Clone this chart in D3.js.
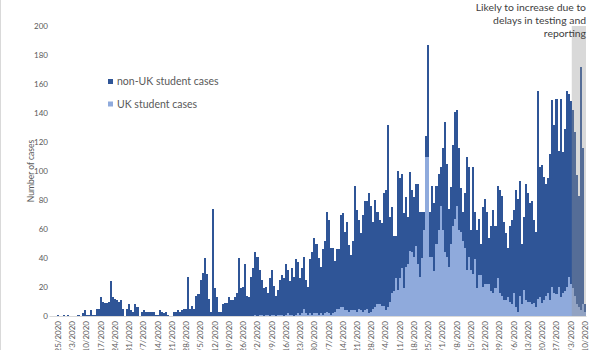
<!DOCTYPE html>
<html>
<head>
<meta charset="utf-8">
<script src="https://cdn.jsdelivr.net/npm/d3@7"></script>
<style>
  html, body { margin: 0; padding: 0; background: #fff; }
  svg { display: block; font-family: Lato, "Open Sans", sans-serif; }
</style>
</head>
<body>
<svg id="chart" width="600" height="350"></svg>
<script>
// Daily student cases, 21 Feb 2020 to 10 Nov 2020
const firstDay = new Date(2020, 1, 21);
const lastDay = new Date(2020, 10, 10);

const nonUkCases = [
  0, 0, 0, 0, 1, 0, 0,
  1, 0, 1, 0, 0, 0, 0,
  1, 0, 2, 4, 1, 1, 4,
  1, 1, 5, 5, 13, 10, 9,
  9, 10, 24, 13, 12, 11, 10,
  11, 5, 0, 5, 8, 4, 3,
  8, 6, 0, 3, 4, 3, 3,
  3, 3, 3, 1, 1, 4, 3,
  2, 3, 1, 0, 0, 3, 3,
  4, 3, 4, 5, 5, 27, 5,
  7, 5, 14, 15, 25, 30, 40,
  29, 12, 3, 74, 19, 13, 3,
  3, 8, 9, 9, 13, 11, 11,
  13, 16, 40, 19, 20, 36, 14,
  13, 27, 33, 43, 41, 31, 24,
  19, 19, 15, 26, 31, 20, 14,
  17, 24, 27, 26, 35, 30, 23,
  32, 27, 38, 35, 25, 31, 36,
  23, 19, 37, 43, 52, 48, 39,
  32, 45, 50, 69, 64, 46, 45,
  35, 41, 41, 64, 65, 54, 61,
  46, 38, 48, 86, 70, 61, 53,
  67, 75, 74, 83, 73, 60, 74,
  64, 58, 57, 78, 83, 126, 58,
  59, 38, 29, 82, 69, 65, 52,
  48, 32, 54, 43, 41, 43, 55,
  45, 32, 13, 14, 77, 31, 49,
  47, 40, 39, 27, 57, 90, 64,
  40, 39, 56, 74, 66, 57, 30,
  20, 38, 78, 62, 27, 74, 33,
  40, 39, 22, 55, 59, 50, 32,
  45, 57, 43, 64, 71, 69, 54,
  46, 34, 52, 58, 57, 81, 78,
  79, 42, 50, 80, 75, 68, 71,
  57, 52, 143, 90, 95, 85, 77,
  79, 101, 129, 116, 135, 94, 137,
  97, 112, 135, 126, 126, 123, 113,
  89, 77, 168, 108, 5
];

const ukCases = [
  0, 0, 0, 0, 0, 0, 0,
  0, 0, 0, 0, 0, 0, 0,
  0, 0, 0, 0, 0, 0, 0,
  0, 0, 0, 0, 0, 0, 0,
  0, 0, 0, 0, 0, 0, 0,
  0, 0, 0, 0, 0, 0, 0,
  0, 0, 0, 0, 0, 0, 0,
  0, 0, 0, 0, 0, 0, 0,
  0, 0, 0, 0, 0, 0, 0,
  0, 0, 0, 0, 0, 0, 0,
  0, 0, 0, 0, 0, 0, 0,
  0, 0, 0, 0, 0, 0, 0,
  0, 0, 0, 0, 0, 0, 0,
  0, 0, 0, 0, 0, 0, 0,
  0, 0,
  0, 1, 0, 1, 1, 0, 1,
  1, 0, 1, 1, 0, 1, 1,
  1, 0, 1, 2, 1, 1, 0,
  1, 2, 1, 2, 5, 2, 1,
  2, 1, 2, 2, 1, 2, 1,
  2, 3, 2, 1, 2, 3, 5,
  5, 6, 6, 4, 4, 3, 4,
  4, 4, 3, 5, 4, 3, 4,
  5, 2, 3, 5, 6, 8, 8,
  7, 7, 4, 6, 10, 16, 17,
  26, 18, 26, 33, 19, 34, 36,
  45, 44, 41, 48, 36, 27, 40,
  59, 110, 110, 41, 41, 31, 50,
  59, 76, 59, 44, 41, 34, 50,
  62, 67, 76, 59, 58, 52, 47,
  32, 41, 32, 29, 39, 19, 28,
  28, 20, 22, 22, 22, 17, 16,
  19, 26, 16, 14, 11, 11, 13,
  10, 8, 16, 6, 3, 14, 8,
  18, 11, 10, 10, 8, 9, 6,
  12, 13, 9, 11, 14, 16, 11,
  20, 16, 15, 20, 13, 16, 17,
  20, 27, 22, 19, 14, 8, 6,
  4, 8, 3
];

const seriesNames = ["UK student cases", "non-UK student cases"];
const seriesColors = ["#8FAADC", "#2F5597"];
const legendOrder = ["non-UK student cases", "UK student cases"];
const yTicks = [0, 20, 40, 60, 80, 100, 120, 140, 160, 180, 200];
const yMax = 200;
const yTitle = "Number of cases";
const noteLines = ["Likely to increase due to", "delays in testing and", "reporting"];
const provisionalDays = 7;

const dates = d3.timeDay.range(firstDay, d3.timeDay.offset(lastDay, 1));
const rows = dates.map((d, i) => ({
  date: d,
  "UK student cases": ukCases[i],
  "non-UK student cases": nonUkCases[i]
}));

const svg = d3.select("#chart");
const W = 600, H = 350;
const margin = { left: 49, right: 14, top: 26, bottom: 34 };

const x = d3.scaleBand()
  .domain(dates)
  .range([margin.left, W - margin.right])
  .padding(0);

const y = d3.scaleLinear()
  .domain([0, yMax])
  .range([H - margin.bottom, margin.top]);

const color = d3.scaleOrdinal().domain(seriesNames).range(seriesColors);

// chart frame edge on the left
svg.append("line")
  .attr("x1", 0.5).attr("x2", 0.5)
  .attr("y1", 0).attr("y2", H)
  .attr("stroke", "#d9d9d9");

// stacked daily bars, UK cases at the bottom
const stacked = d3.stack().keys(seriesNames)(rows);
svg.append("g")
  .attr("shape-rendering", "crispEdges")
  .selectAll("g")
  .data(stacked)
  .join("g")
  .attr("fill", s => color(s.key))
  .selectAll("rect")
  .data(s => s)
  .join("rect")
  .attr("x", d => x(d.data.date))
  .attr("width", x.bandwidth())
  .attr("y", d => y(d[1]))
  .attr("height", d => y(d[0]) - y(d[1]));

// shaded band over the most recent, still incomplete days
const shadeStart = dates[dates.length - provisionalDays];
svg.append("rect")
  .attr("x", x(shadeStart))
  .attr("width", x.range()[1] - x(shadeStart))
  .attr("y", y(yMax))
  .attr("height", y(0) - y(yMax))
  .attr("fill", "#979797")
  .attr("fill-opacity", 0.37);

// x axis: weekly date labels, rotated
const fmt = d3.timeFormat("%-m/%-d/%Y");
const tickDates = dates.filter((d, i) => i % 7 === 4);
const xAxis = svg.append("g")
  .attr("transform", `translate(0,${y(0)})`)
  .call(d3.axisBottom(x).tickValues(tickDates).tickFormat(fmt).tickSize(0).tickSizeOuter(0));
xAxis.select(".domain").attr("stroke", "#d9d9d9");
xAxis.selectAll("text")
  .attr("transform", "rotate(-90)")
  .attr("text-anchor", "end")
  .attr("x", -5)
  .attr("y", 0)
  .attr("dy", "0.35em")
  .attr("fill", "#595959")
  .style("font-size", "8px")
  .style("font-family", "Lato, 'Open Sans', sans-serif");

// y axis: labels only
const yAxis = svg.append("g")
  .attr("transform", `translate(${margin.left},0)`)
  .call(d3.axisLeft(y).tickValues(yTicks).tickSize(0).tickPadding(1));
yAxis.select(".domain").remove();
yAxis.selectAll("text")
  .attr("fill", "#595959")
  .style("font-size", "8px")
  .style("font-family", "Lato, 'Open Sans', sans-serif");

svg.append("text")
  .attr("transform", `translate(31,${(y(0) + y(yMax)) / 2}) rotate(-90)`)
  .attr("text-anchor", "middle")
  .attr("dy", "0.35em")
  .attr("fill", "#595959")
  .style("font-size", "8.5px")
  .text(yTitle);

// legend
const legend = svg.append("g").attr("transform", "translate(108,79)");
legendOrder.forEach((name, i) => {
  const g = legend.append("g").attr("transform", `translate(0,${i * 22.5})`);
  g.append("rect").attr("width", 5).attr("height", 5).attr("fill", color(name));
  g.append("text")
    .attr("x", 9).attr("y", 2.5).attr("dy", "0.35em")
    .attr("fill", "#595959")
    .style("font-size", "10.5px")
    .text(name);
});

// note above the shaded band
svg.append("g")
  .selectAll("text")
  .data(noteLines)
  .join("text")
  .attr("x", 586)
  .attr("y", (d, i) => 11 + i * 13)
  .attr("text-anchor", "end")
  .attr("fill", "#404040")
  .style("font-size", "10.4px")
  .text(d => d);
</script>
</body>
</html>
